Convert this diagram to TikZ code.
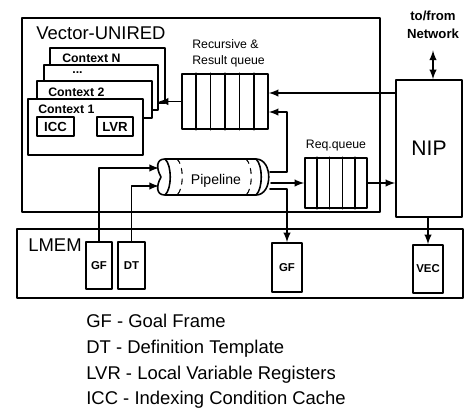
\documentclass[tikz,border=0pt]{standalone}
\usepackage{fontspec}
\setmainfont{Liberation Sans}
\usetikzlibrary{calc}

% one pixel of the layout grid
\newcommand{\px}{0.02cm}

\begin{document}
\begin{tikzpicture}[x=0.02cm, y=-0.02cm, >=latex, line cap=round, line join=round]

% --- Styles ---
\tikzset{
    box/.style={
        draw=black,
        line width=0.9pt,
        inner sep=0pt
    },
    ctxbox/.style={
        box,
        fill=white
    },
    smallbox/.style={
        box,
        font=\fontsize{6.5}{7.5}\selectfont\bfseries
    },
    flow/.style={
        ->,
        line width=0.9pt
    },
    titletext/.style={
        inner sep=0pt,
        font=\fontsize{10.5}{12}\selectfont
    },
    tagtext/.style={
        inner sep=0pt,
        font=\fontsize{7}{9}\selectfont
    },
    ctxtext/.style={
        inner sep=0pt,
        anchor=west,
        font=\fontsize{7}{8}\selectfont\bfseries
    },
    legendtext/.style={
        inner sep=0pt,
        anchor=base west,
        font=\fontsize{10.5}{12}\selectfont
    }
}

\useasboundingbox (0,0) rectangle (466,410);

% =========================================================================
% --- Vector-UNIRED ---
% =========================================================================
\node[box, minimum width=358*\px, minimum height=194*\px] (unired) at (201,115) {};
\node[titletext, anchor=west] (uniredlab) at (36,33) {Vector-UNIRED};

% --- Contexts, back to front ---
\node[ctxbox, minimum width=115*\px, minimum height=55*\px] (ctxn) at (107.5,75.5) {};
\node[ctxtext] (ctxnlab) at (62,58) {Context N};

\node[ctxbox, minimum width=114*\px, minimum height=45*\px] (ctxd) at (101,87.5) {};
\node[ctxtext] (ctxdlab) at (72,73) {...};

\node[ctxbox, minimum width=115*\px, minimum height=37*\px] (ctx2) at (94.5,99.5) {};
\node[ctxtext] (ctx2lab) at (48,92) {Context 2};

\node[ctxbox, minimum width=115*\px, minimum height=56*\px] (ctx1) at (85.5,127) {};
\node[ctxtext] (ctx1lab) at (38,109) {Context 1};

\node[box, minimum width=37*\px, minimum height=19*\px,
      font=\fontsize{7.5}{8}\selectfont\bfseries] (icc) at (55.5,126.5) {ICC};
\node[box, minimum width=36*\px, minimum height=19*\px,
      font=\fontsize{7.5}{8}\selectfont\bfseries] (lvr) at (115,126.5) {LVR};

% --- Recursive & Result queue ---
\node[box, minimum width=86*\px, minimum height=55*\px] (rq) at (225,101.5) {};
\foreach \i in {1,...,5}
    \draw[line width=0.9pt]
        ($(rq.north west)!\i/6!(rq.north east)$) -- ($(rq.south west)!\i/6!(rq.south east)$);
\node[tagtext, anchor=west, align=left] (rqlab) at (192,53) {Recursive \&\\Result queue};

% --- Pipeline ---
\draw[line width=0.9pt]
    (165,159) -- (256,159)
    .. controls (273,159) and (273,195) .. (256,195)
    -- (165,195)
    .. controls (156,195) and (156,186) .. (161,177)
    .. controls (156,168) and (156,159) .. (165,159);
\draw[line width=0.9pt] (165,159) .. controls (172,165) and (172,189) .. (165,195);
\draw[line width=0.6pt, dashed] (177,159) .. controls (184,165) and (184,189) .. (177,195);
\draw[line width=0.6pt, dashed] (246,159) .. controls (253,165) and (253,189) .. (246,195);
\draw[line width=0.9pt] (256,159) .. controls (263,165) and (263,189) .. (256,195);
\node[inner sep=0pt, font=\fontsize{8}{9}\selectfont] (pipe) at (216,181) {Pipeline};

\coordinate (pin1) at (159,168);
\coordinate (pin2) at (159,186);
\coordinate (pout1) at (270,172);
\coordinate (pout2) at (271,183);
\coordinate (pout3) at (270,189);

% --- Req.queue ---
\node[box, minimum width=62*\px, minimum height=50*\px] (qq) at (336,183) {};
\foreach \i in {1,...,4}
    \draw[line width=0.9pt]
        ($(qq.north west)!\i/5!(qq.north east)$) -- ($(qq.south west)!\i/5!(qq.south east)$);
\node[tagtext] (qqlab) at (336,146) {Req.queue};

% --- NIP ---
\node[box, minimum width=66*\px, minimum height=137*\px,
      font=\fontsize{12}{14}\selectfont] (nip) at (429,148.5) {NIP};
\node[inner sep=0pt, align=center, font=\fontsize{7.5}{10.5}\selectfont\bfseries] (net) at (433,25) {to/from\\Network};

% =========================================================================
% --- LMEM ---
% =========================================================================
\node[box, minimum width=446*\px, minimum height=69*\px] (lmem) at (240,263.5) {};
\node[titletext, anchor=west] (lmemlab) at (28,245) {LMEM};

\node[smallbox, minimum width=26*\px, minimum height=47*\px] (gf1) at (99,265.5) {GF};
\node[smallbox, minimum width=27*\px, minimum height=47*\px] (dt) at (131.5,265.5) {DT};
\node[smallbox, minimum width=30*\px, minimum height=49*\px] (gf2) at (287,267.5) {GF};
\node[smallbox, minimum width=30*\px, minimum height=48*\px] (vec) at (428,269) {VEC};

% --- Connectors ---
\coordinate (rqin1) at ($(rq.east)+(0,-8.5)$);
\coordinate (rqin2) at ($(rq.east)+(0,10.5)$);

\draw[flow] (rq.west) -- (ctxd.east |- rq.west);
\draw[flow] (nip.west |- rqin1) -- (rqin1);
\draw[flow] (pout1) -- (gf2.north |- pout1) |- (rqin2);
\draw[flow] (gf1.north) |- (pin1);
\draw[flow] (dt.north) |- (pin2);
\draw[flow] (pout2) -- (qq.west);
\draw[flow] (pout3) -| (gf2.north);
\draw[flow] (qq.east) -- (nip.west |- qq.east);
\draw[flow] (vec.north |- nip.south) -- (vec.north);
\draw[flow, <->] (net.south |- nip.north) -- ($(net.south)+(0,11)$);

% --- Legend ---
\node[legendtext] (leg1) at (86,327) {GF - Goal Frame};
\node[legendtext] (leg2) at (86,353) {DT - Definition Template};
\node[legendtext] (leg3) at (86,379) {LVR - Local Variable Registers};
\node[legendtext] (leg4) at (86,404) {ICC - Indexing Condition Cache};

\end{tikzpicture}
\end{document}
